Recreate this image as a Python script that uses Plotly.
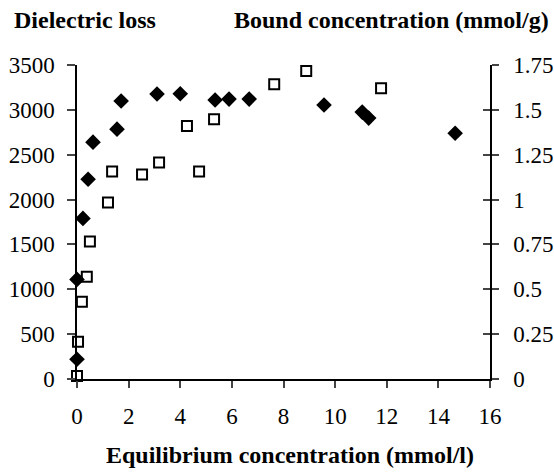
import plotly.graph_objects as go

# Dielectric loss (left axis) - filled diamonds
loss_x = [0.0, 0.0, 0.23, 0.43, 0.62, 1.55, 1.71, 3.1, 4.0, 5.35, 5.89, 6.67, 9.57, 11.05, 11.3, 14.65]
loss_y = [220, 1110, 1790, 2226, 2640, 2785, 3098, 3177, 3180, 3110, 3120, 3120, 3054, 2975, 2908, 2740]

# Bound concentration (right axis) - open squares
bound_x = [0.0, 0.04, 0.19, 0.38, 0.5, 1.2, 1.36, 2.52, 3.18, 4.26, 4.73, 5.31, 7.64, 8.88, 9.0, 11.78]
bound_y = [0.017, 0.207, 0.43, 0.57, 0.766, 0.984, 1.157, 1.14, 1.207, 1.41, 1.157, 1.448, 1.643, 1.716, 1.755, 1.62]

x_ticks = [0, 2, 4, 6, 8, 10, 12, 14, 16]
left_ticks = [0, 500, 1000, 1500, 2000, 2500, 3000, 3500]
right_ticks = [0, 0.25, 0.5, 0.75, 1, 1.25, 1.5, 1.75]
right_labels = ["0", "0.25", "0.5", "0.75", "1", "1.25", "1.5", "1.75"]

FONT = "Liberation Serif"
TS = 23

fig = go.Figure()
fig.add_trace(go.Scatter(
    x=loss_x, y=loss_y, mode="markers", yaxis="y",
    marker=dict(symbol="diamond", size=12, color="black"),
    cliponaxis=False, showlegend=False))
fig.add_trace(go.Scatter(
    x=bound_x, y=bound_y, mode="markers", yaxis="y2",
    marker=dict(symbol="square-open", size=10, color="black", line=dict(width=2, color="black")),
    cliponaxis=False, showlegend=False))
fig.add_trace(go.Scatter(x=[], y=[], yaxis="y3", showlegend=False, hoverinfo="skip"))

fig.update_layout(
    width=554, height=472,
    margin=dict(l=77, r=64, t=65, b=93, autoexpand=False),
    paper_bgcolor="white", plot_bgcolor="white",
    font=dict(family=FONT, color="black", size=TS),
    xaxis=dict(range=[0, 16], tickvals=x_ticks, ticks="outside", ticklen=7, tickwidth=1.5,
               showline=True, linecolor="black", linewidth=1.5, showgrid=False, zeroline=False,
               ticklabelstandoff=9, tickfont=dict(size=TS, family=FONT), automargin=False),
    yaxis=dict(range=[0, 3500], tickvals=left_ticks, ticks="outside", ticklen=8, tickwidth=1.5,
               showline=True, linecolor="black", linewidth=1.5, showgrid=False, zeroline=False,
               ticklabelstandoff=8, tickfont=dict(size=TS, family=FONT), automargin=False),
    yaxis2=dict(range=[0, 1.75], tickvals=right_ticks, ticktext=right_labels, overlaying="y", side="right",
                ticks="outside", ticklen=7, tickwidth=1.5, showline=True, linecolor="black", linewidth=1.5,
                showgrid=False, zeroline=False, ticklabelstandoff=10, tickfont=dict(size=TS, family=FONT),
                automargin=False),
    yaxis3=dict(range=[0, 1.75], tickvals=right_ticks, overlaying="y", side="right",
                ticks="inside", ticklen=7, tickwidth=1.5, showline=False, showticklabels=False,
                showgrid=False, zeroline=False, automargin=False),
    annotations=[
        dict(text="<b>Dielectric loss</b>", xref="paper", yref="paper", x=-0.157, y=1.095,
             xanchor="left", yanchor="bottom", showarrow=False, font=dict(size=24, family=FONT)),
        dict(text="<b>Bound concentration (mmol/g)</b>", xref="paper", yref="paper", x=1.147, y=1.095,
             xanchor="right", yanchor="bottom", showarrow=False, font=dict(size=24, family=FONT)),
        dict(text="<b>Equilibrium concentration (mmol/l)</b>", xref="paper", yref="paper", x=0.515, y=-0.195,
             xanchor="center", yanchor="top", showarrow=False, font=dict(size=24, family=FONT)),
    ],
)

fig.write_html("out.html", config={"displayModeBar": False},
               post_script="document.body.style.margin='0';document.body.style.padding='0';")
